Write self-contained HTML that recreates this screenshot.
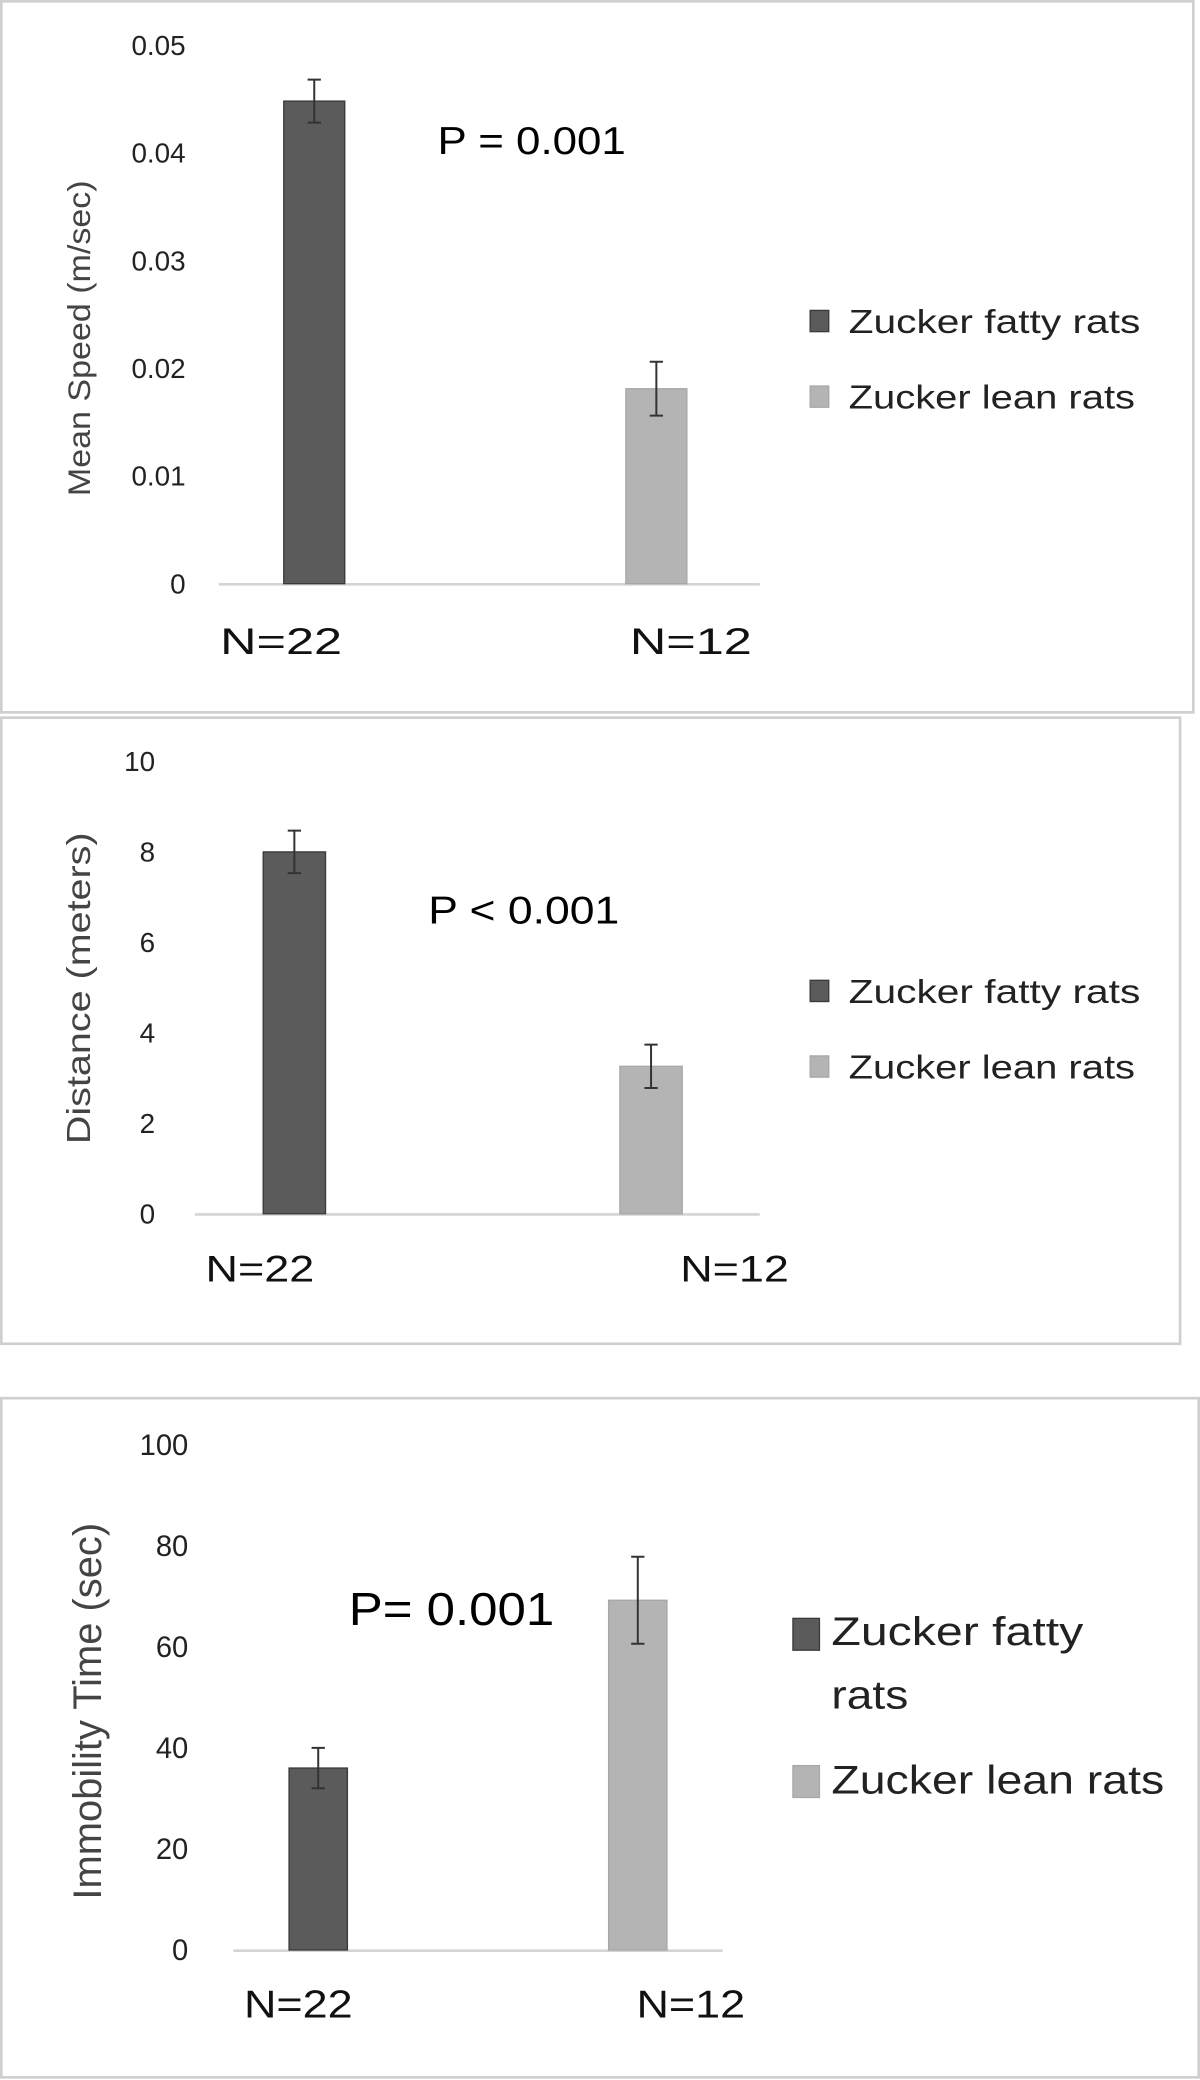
<!DOCTYPE html>
<html><head><meta charset="utf-8"><style>
html,body{margin:0;padding:0;background:#fff}
svg{display:block}
text{font-family:"Liberation Sans",sans-serif}
</style></head><body>
<svg id="fig" width="1200" height="2080" viewBox="0 0 905 1568" preserveAspectRatio="none" xmlns="http://www.w3.org/2000/svg"></svg>
<script>
const groups = ["N=22", "N=12"];
const seriesNames = ["Zucker fatty rats", "Zucker lean rats"];
const speedValues = [0.0448, 0.0181];
const speedErr = [0.0020, 0.0025];
const speedTicks = ["0", "0.01", "0.02", "0.03", "0.04", "0.05"];
const distValues = [8.0, 3.26];
const distErr = [0.47, 0.48];
const distTicks = ["0", "2", "4", "6", "8", "10"];
const immValues = [36.0, 69.2];
const immErr = [4.0, 8.6];
const immTicks = ["0", "20", "40", "60", "80", "100"];

const NS = "http://www.w3.org/2000/svg";
const svg = document.getElementById('fig');
const colors = ["#5b5b5b", "#b4b4b4"];
const strokes = ["#3a3a3a", "#a8a8a8"];
function mk(tag, attrs, parent){
  const e = document.createElementNS(NS, tag);
  for (const k in attrs) e.setAttribute(k, attrs[k]);
  (parent||svg).appendChild(e); return e;
}
function txt(s, attrs, parent){ const t = mk('text', attrs, parent); t.textContent = s; return t; }

function chart(cfg){
  const g = mk('g', {});
  
  
  const fr = mk('rect', {x:cfg.box[0], y:cfg.box[1], width:cfg.box[2], height:cfg.box[3], fill:'#fff', stroke:'#cfcfcf', 'stroke-width':2}, g);
  
  
  const max = Number(cfg.ticks[cfg.ticks.length-1]);
  const y = v => cfg.y0 - v / max * (cfg.y0 - cfg.yTop);
  cfg.ticks.forEach(t => {
    const e = txt(t, {x:cfg.tickX, y:y(Number(t)) + cfg.tickFs*0.35, 'text-anchor':'end', 'font-size':cfg.tickFs, fill:'#222'}, g);
    
    
  });
  const ax = mk('line', {x1:cfg.axX[0], x2:cfg.axX[1], y1:cfg.y0+0.5, y2:cfg.y0+0.5, stroke:'#d4d4d4', 'stroke-width':2}, g);
  
  
  cfg.values.forEach((v, i) => {
    const cx = cfg.barX[i];
    const b = mk('rect', {x:cx - cfg.barW/2, y:y(v), width:cfg.barW, height:cfg.y0 - y(v), fill:colors[i], stroke:strokes[i], 'stroke-width':1}, g);
    
    
    const hi = y(v + cfg.err[i]), lo = y(v - cfg.err[i]);
    const eb = mk('path', {d:`M${cx} ${hi}V${lo}M${cx-5} ${hi}H${cx+5}M${cx-5} ${lo}H${cx+5}`, stroke:'#333', 'stroke-width':1.5, fill:'none'}, g);
    
    
    const l = txt(groups[i], {x:cfg.labX[i], y:cfg.labY, 'text-anchor':'middle', 'font-size':cfg.labFs, fill:'#111', textLength:cfg.labW, lengthAdjust:'spacingAndGlyphs'}, g);
    
    
  });
  const yt = txt(cfg.title, {x:0, y:0, transform:`translate(${cfg.titleX},${cfg.titleY}) rotate(-90)`, 'text-anchor':'middle', 'font-size':cfg.titleFs, fill:'#444', textLength:cfg.titleW, lengthAdjust:'spacingAndGlyphs'}, g);
  
  
  const p = txt(cfg.p, {x:cfg.pX, y:cfg.pY, 'font-size':cfg.pFs, fill:'#000', textLength:cfg.pW, lengthAdjust:'spacingAndGlyphs'}, g);
  
  
  cfg.legend.forEach((L, i) => {
    const lg = mk('g', {}, g);
    
    
    mk('rect', {x:L.sx, y:L.sy, width:cfg.sq, height:cfg.sqH || cfg.sq, fill:colors[i], stroke:strokes[i]}, lg);
    L.lines.forEach((s, j) => {
      const a = {x:L.tx, y:L.ty + j*cfg.lineH, 'font-size':cfg.legFs, fill:'#222'};
      if (L.w && L.w[j]) { a.textLength = L.w[j]; a.lengthAdjust = 'spacingAndGlyphs'; }
      txt(s, a, lg);
    });
  });
}

chart({name:'mean-speed-chart', box:[1,1,899,536], ticks:speedTicks, values:speedValues, err:speedErr,
  y0:440, yTop:34, tickX:140, tickFs:21, axX:[165,573], barX:[237,495], barW:46,
  labX:[212,521], labY:493, labFs:28, labW:92, title:'Mean Speed (m/sec)', titleX:68, titleY:255, titleFs:24, titleW:238,
  p:'P = 0.001', pX:330, pY:116, pFs:29, pW:142, sq:14, sqH:16, legFs:25, lineH:30,
  legend:[{sx:611,sy:234,tx:640,ty:251,lines:[seriesNames[0]],w:[220]},{sx:611,sy:291,tx:640,ty:308,lines:[seriesNames[1]],w:[216]}]});

chart({name:'distance-chart', box:[1,541,889,472], ticks:distTicks, values:distValues, err:distErr,
  y0:915, yTop:574, tickX:117, tickFs:21, axX:[147,573], barX:[222,491], barW:47,
  labX:[196,554], labY:966, labFs:28, labW:82, title:'Distance (meters)', titleX:68, titleY:745, titleFs:25, titleW:235,
  p:'P < 0.001', pX:323, pY:696, pFs:29, pW:144, sq:14, sqH:16, legFs:25, lineH:30,
  legend:[{sx:611,sy:739,tx:640,ty:756,lines:[seriesNames[0]],w:[220]},{sx:611,sy:796,tx:640,ty:813,lines:[seriesNames[1]],w:[216]}]});

chart({name:'immobility-time-chart', box:[1,1054,903,512], ticks:immTicks, values:immValues, err:immErr,
  y0:1470, yTop:1089, tickX:142, tickFs:22, axX:[176,545], barX:[240,481], barW:44,
  labX:[225,521], labY:1521, labFs:29, labW:82, title:'Immobility Time (sec)', titleX:76, titleY:1290, titleFs:30, titleW:284,
  p:'P= 0.001', pX:263, pY:1225, pFs:35, pW:155, sq:20, sqH:24, legFs:30, lineH:48,
  legend:[{sx:598,sy:1220,tx:627,ty:1240,lines:['Zucker fatty','rats'],w:[190,58]},{sx:598,sy:1331,tx:627,ty:1352,lines:[seriesNames[1]],w:[251]}]});
</script>
</body></html>
